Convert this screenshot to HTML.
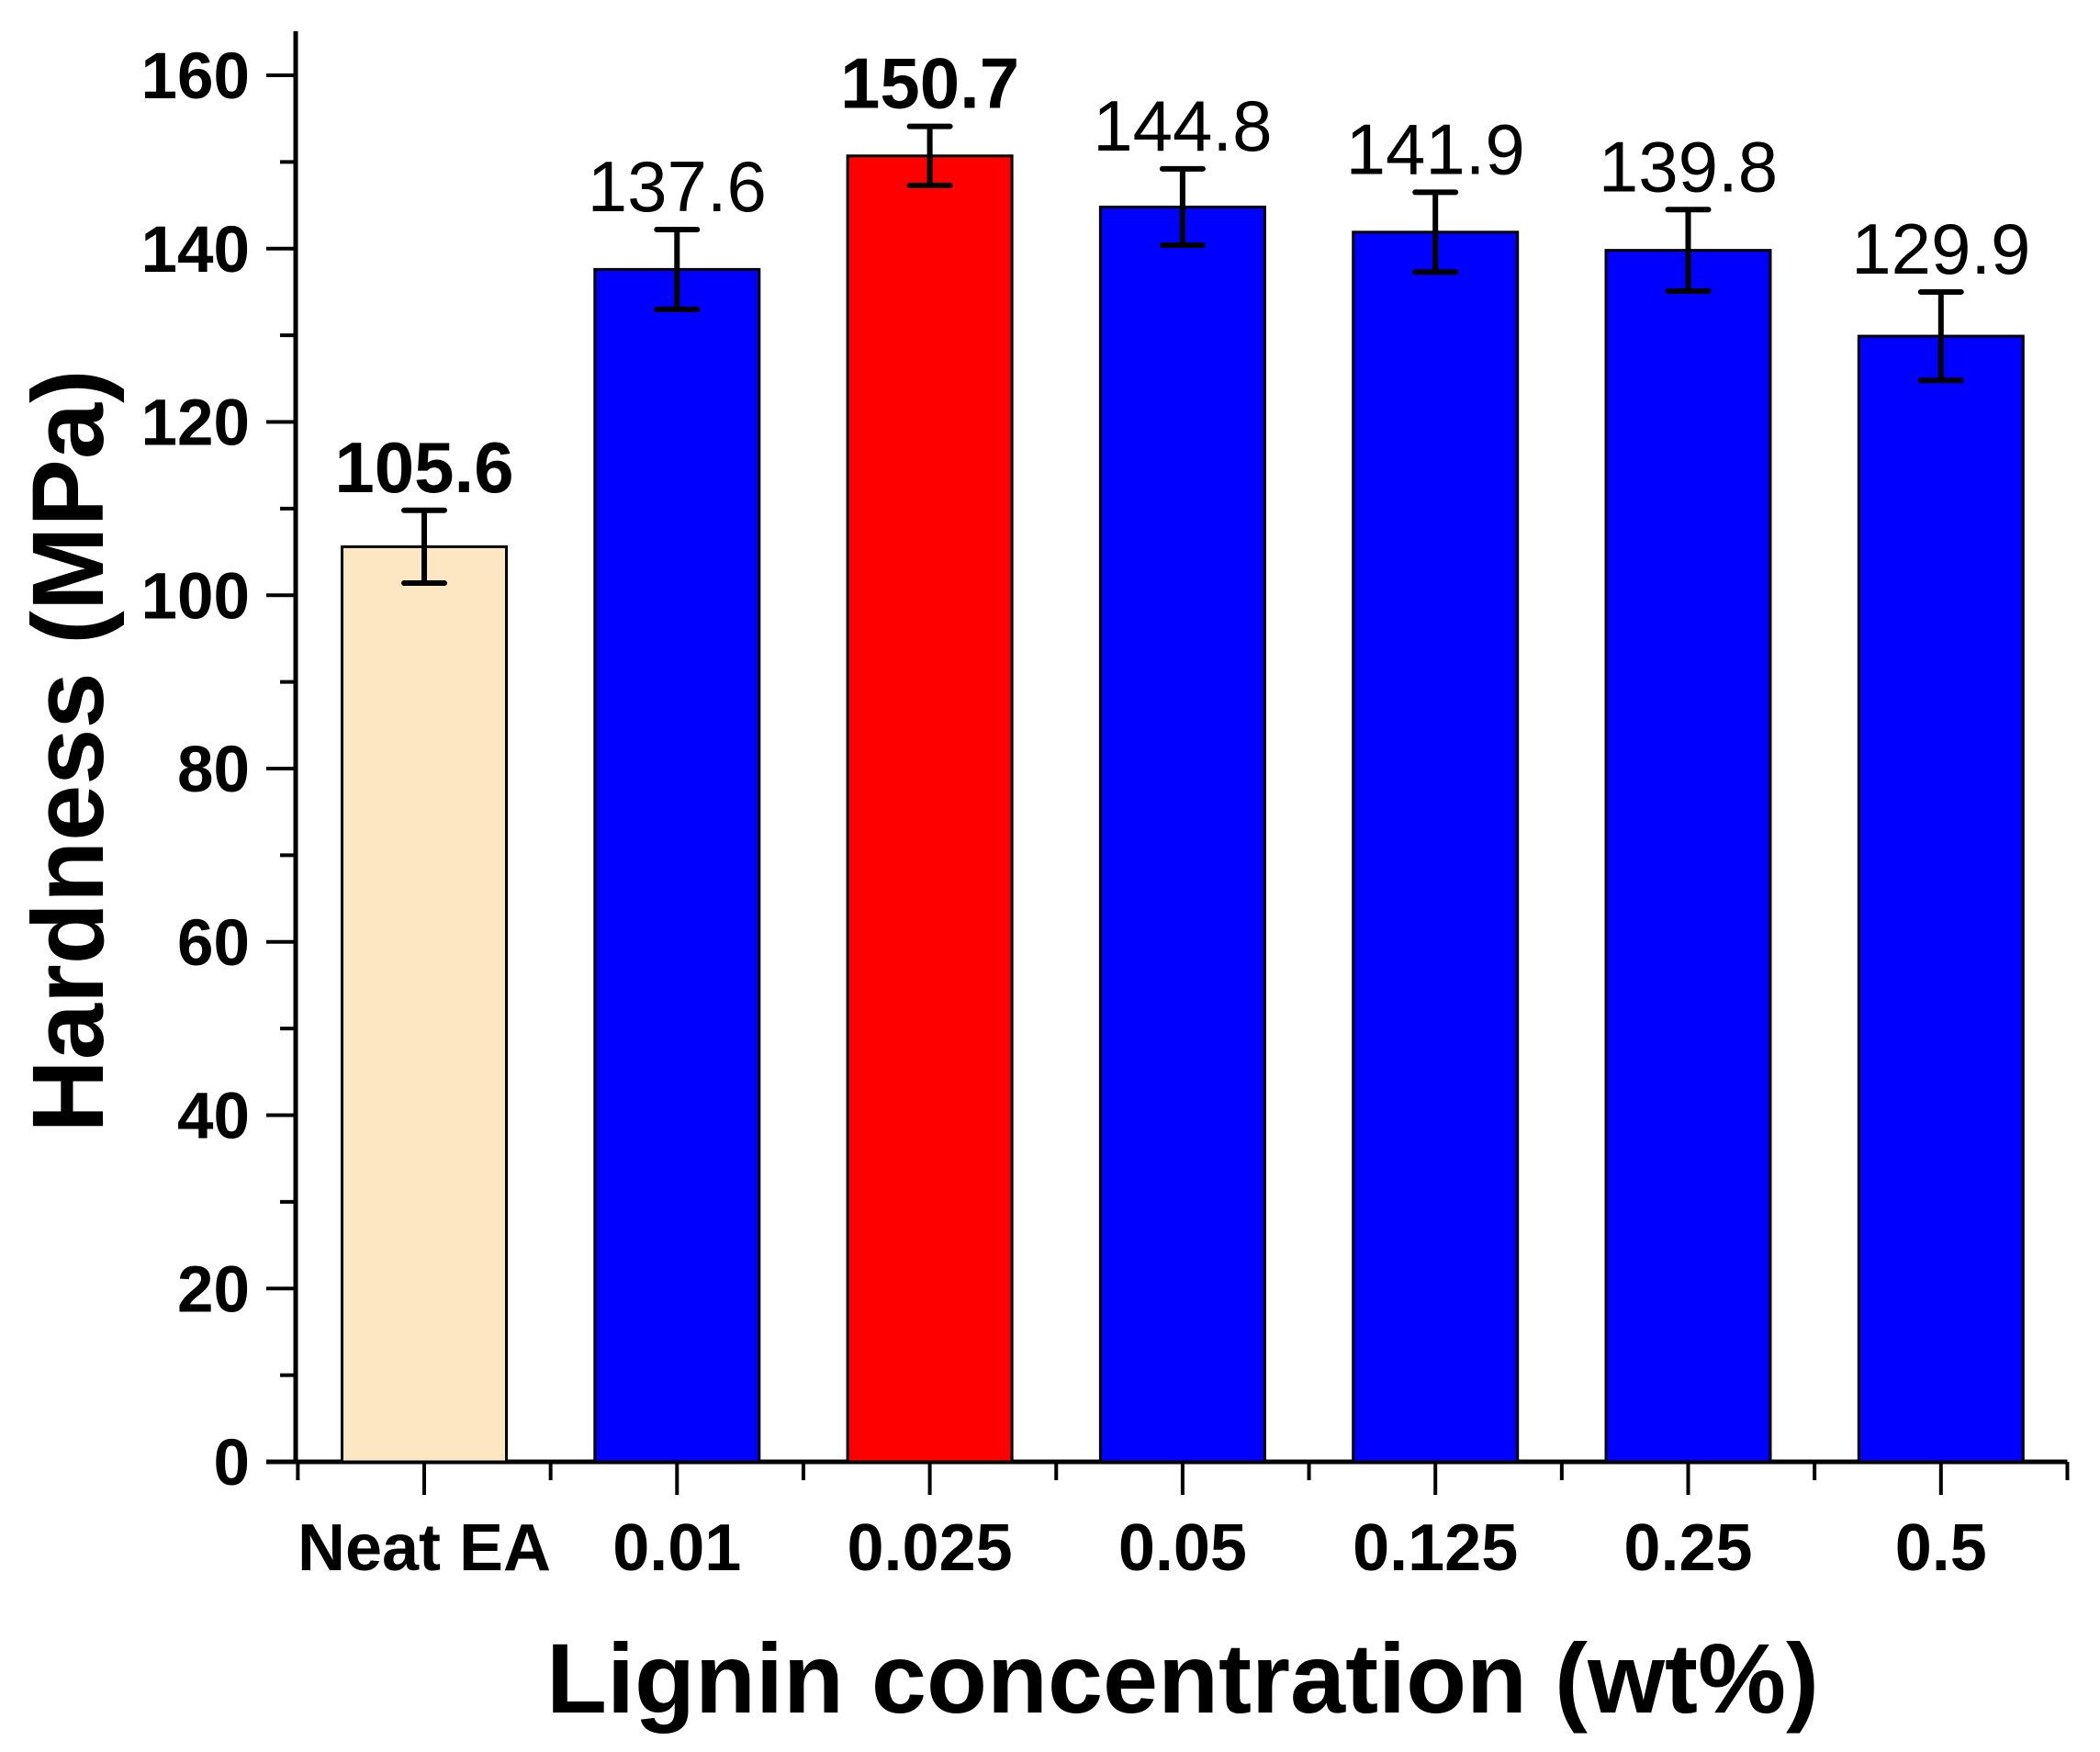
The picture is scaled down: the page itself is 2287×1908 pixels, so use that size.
<!DOCTYPE html>
<html><head><meta charset="utf-8"><style>
html,body{margin:0;padding:0;background:#fff;}
svg text{font-family:"Liberation Sans",Arial,sans-serif;}
</style></head><body>
<svg id="chart" width="2287" height="1903" viewBox="0 0 2287 1903" xmlns="http://www.w3.org/2000/svg">
<g id="axes"></g>
<g id="bars"></g>
<text x="0" y="0" transform="translate(112,818) rotate(-90)" text-anchor="middle" font-size="110" font-weight="bold">Hardness (MPa)</text>
<text x="1288" y="1865" text-anchor="middle" font-size="108" font-weight="bold">Lignin concentration (wt%)</text>
</svg>
<script>
const categories = ["Neat EA","0.01","0.025","0.05","0.125","0.25","0.5"];
const values = [105.6,137.6,150.7,144.8,141.9,139.8,129.9];
const errors = [4.2,4.6,3.4,4.4,4.6,4.7,5.1];
const colors = ["#FDE7C2","#0000FF","#FF0000","#0000FF","#0000FF","#0000FF","#0000FF"];
const boldLabels = [true,false,true,false,false,false,false];
const yTicks = [0,20,40,60,80,100,120,140,160];

const NS="http://www.w3.org/2000/svg";
const axisX=322, y0px=1592, y160px=82;
const firstCenter=462, step=275.3, barW=179;
const axisRight=firstCenter+(categories.length-0.5)*step;
function yScale(v){return y0px-(v/160)*(y0px-y160px);}
function xScale(i){return firstCenter+i*step;}
function mk(tag,attrs,parent){const e=document.createElementNS(NS,tag);for(const k in attrs)e.setAttribute(k,attrs[k]);parent.appendChild(e);return e;}
const axes=document.getElementById('axes'), bars=document.getElementById('bars');

categories.forEach((c,i)=>{
  const cx=xScale(i), v=values[i], e=errors[i];
  const r=mk('rect',{x:cx-barW/2,y:yScale(v),width:barW,height:y0px-yScale(v),fill:colors[i],stroke:'#000','stroke-width':3},bars);
  
  
  const eb=mk('path',{d:`M${cx},${yScale(v+e)}V${yScale(v-e)}M${cx-22},${yScale(v+e)}H${cx+22}M${cx-22},${yScale(v-e)}H${cx+22}`,stroke:'#000','stroke-width':6,'stroke-linecap':'round',fill:'none'},bars);
  
  
  const t=mk('text',{x:cx,y:yScale(v+e)-20,'text-anchor':'middle','font-size':78,'font-weight':boldLabels[i]?'bold':'normal'},bars);
  t.textContent=v.toFixed(1);
  
  
  const xl=mk('text',{x:cx,y:1710,'text-anchor':'middle','font-size':72,'font-weight':'bold'},axes);
  xl.textContent=c;
  
  
  const tk=mk('line',{x1:cx,x2:cx,y1:y0px,y2:y0px+36,stroke:'#000','stroke-width':4},axes);
  
  
});
for(let i=0;i<=categories.length;i++){
  const mx=xScale(i)-step/2;
  const m=mk('line',{x1:mx,x2:mx,y1:y0px,y2:y0px+20,stroke:'#000','stroke-width':4},axes);
  
  
}
yTicks.forEach((v,i)=>{
  const y=yScale(v);
  const t=mk('line',{x1:axisX-32,x2:axisX,y1:y,y2:y,stroke:'#000','stroke-width':4},axes);
  
  
  const l=mk('text',{x:272,y:y+25,'text-anchor':'end','font-size':71,'font-weight':'bold'},axes);
  l.textContent=v;
  
  
  if(i<yTicks.length-1){
    const ym=yScale(v+10);
    const m=mk('line',{x1:axisX-17,x2:axisX,y1:ym,y2:ym,stroke:'#000','stroke-width':4},axes);
    
    
  }
});
const ya=mk('line',{x1:axisX,x2:axisX,y1:y0px+2,y2:34,stroke:'#000','stroke-width':5},axes);


const xa=mk('line',{x1:axisX-32,x2:axisRight,y1:y0px,y2:y0px,stroke:'#000','stroke-width':5},axes);


</script>
</body></html>
